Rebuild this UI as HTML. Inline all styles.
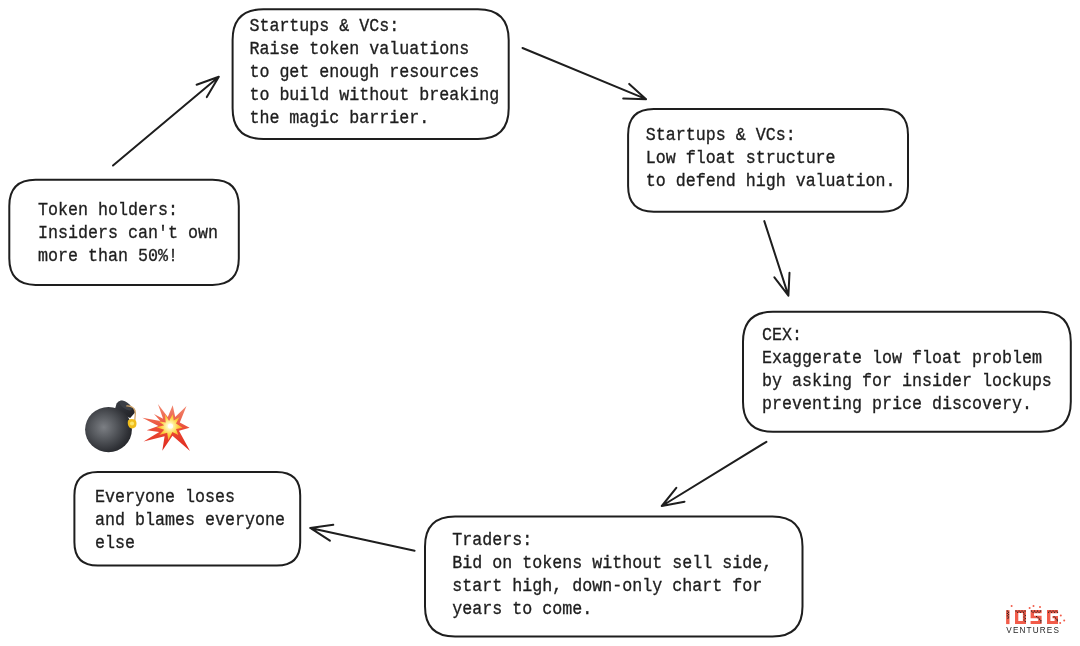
<!DOCTYPE html>
<html>
<head>
<meta charset="utf-8">
<style>
html,body{margin:0;padding:0;background:#ffffff;}
body{width:1080px;height:646px;overflow:hidden;position:relative;}
svg{position:absolute;left:0;top:0;will-change:transform;}
.t text{font-family:"Liberation Mono", monospace;font-size:16.667px;fill:#1e1e1e;stroke:#1e1e1e;stroke-width:0.3px;}
</style>
</head>
<body>
<svg width="1080" height="646" viewBox="0 0 1080 646">
  <g fill="none" stroke="#1e1e1e" stroke-width="2" stroke-linecap="round" stroke-linejoin="round">
    <path d="M263.40 9.3 L477.90 9.3 Q508.7 9.3 508.7 40.10 L508.7 108.20 Q508.7 139.0 477.90 139.0 L263.40 139.0 Q232.6 139.0 232.6 108.20 L232.6 40.10 Q232.6 9.3 263.40 9.3 Z"/>
    <path d="M653.77 109.1 L882.33 109.1 Q908.0 109.1 908.0 134.78 L908.0 186.12 Q908.0 211.8 882.33 211.8 L653.77 211.8 Q628.1 211.8 628.1 186.12 L628.1 134.78 Q628.1 109.1 653.77 109.1 Z"/>
    <path d="M773.00 311.8 L1040.80 311.8 Q1070.8 311.8 1070.8 341.80 L1070.8 401.80 Q1070.8 431.8 1040.80 431.8 L773.00 431.8 Q743.0 431.8 743.0 401.80 L743.0 341.80 Q743.0 311.8 773.00 311.8 Z"/>
    <path d="M455.05 516.4 L772.45 516.4 Q802.5 516.4 802.5 546.45 L802.5 606.55 Q802.5 636.6 772.45 636.6 L455.05 636.6 Q425.0 636.6 425.0 606.55 L425.0 546.45 Q425.0 516.4 455.05 516.4 Z"/>
    <path d="M97.80 472.0 L276.80 472.0 Q300.2 472.0 300.2 495.40 L300.2 542.20 Q300.2 565.6 276.80 565.6 L97.80 565.6 Q74.4 565.6 74.4 542.20 L74.4 495.40 Q74.4 472.0 97.80 472.0 Z"/>
    <path d="M35.57 179.8 L212.53 179.8 Q238.8 179.8 238.8 206.07 L238.8 258.62 Q238.8 284.9 212.53 284.9 L35.57 284.9 Q9.3 284.9 9.3 258.62 L9.3 206.07 Q9.3 179.8 35.57 179.8 Z"/>
    <path d="M113 165.5 L218.8 76.7 M196.6 84.7 L218.8 76.7 L206.8 97.1"/>
    <path d="M522.5 48 L646.1 99.2 M629.2 83.9 L646.1 99.2 L623.2 98.5"/>
    <path d="M764.3 221.1 L788.4 295.6 M774.4 277.3 L788.4 295.6 L789.5 272.7"/>
    <path d="M766.4 441.8 L661.8 506 M676.3 487.9 L661.8 506 L684.5 501.7"/>
    <path d="M414.6 550.7 L310.2 527.9 M333.3 524.8 L310.2 527.9 L329.9 540.7"/>
  </g>
  <g class="t">
  <text x="249.4" y="0" transform="translate(0 30.60) scale(1 1.07)">Startups &amp; VCs:</text>
  <text x="249.4" y="0" transform="translate(0 53.68) scale(1 1.07)">Raise token valuations</text>
  <text x="249.4" y="0" transform="translate(0 76.76) scale(1 1.07)">to get enough resources</text>
  <text x="249.4" y="0" transform="translate(0 99.84) scale(1 1.07)">to build without breaking</text>
  <text x="249.4" y="0" transform="translate(0 122.92) scale(1 1.07)">the magic barrier.</text>
  <text x="645.7" y="0" transform="translate(0 139.50) scale(1 1.07)">Startups &amp; VCs:</text>
  <text x="645.7" y="0" transform="translate(0 162.58) scale(1 1.07)">Low float structure</text>
  <text x="645.7" y="0" transform="translate(0 185.66) scale(1 1.07)">to defend high valuation.</text>
  <text x="762.0" y="0" transform="translate(0 339.90) scale(1 1.07)">CEX:</text>
  <text x="762.0" y="0" transform="translate(0 362.98) scale(1 1.07)">Exaggerate low float problem</text>
  <text x="762.0" y="0" transform="translate(0 386.06) scale(1 1.07)">by asking for insider lockups</text>
  <text x="762.0" y="0" transform="translate(0 409.14) scale(1 1.07)">preventing price discovery.</text>
  <text x="452.3" y="0" transform="translate(0 544.90) scale(1 1.07)">Traders:</text>
  <text x="452.3" y="0" transform="translate(0 567.98) scale(1 1.07)">Bid on tokens without sell side,</text>
  <text x="452.3" y="0" transform="translate(0 591.06) scale(1 1.07)">start high, down-only chart for</text>
  <text x="452.3" y="0" transform="translate(0 614.14) scale(1 1.07)">years to come.</text>
  <text x="95.0" y="0" transform="translate(0 502.30) scale(1 1.07)">Everyone loses</text>
  <text x="95.0" y="0" transform="translate(0 525.38) scale(1 1.07)">and blames everyone</text>
  <text x="95.0" y="0" transform="translate(0 548.46) scale(1 1.07)">else</text>
  <text x="38.1" y="0" transform="translate(0 215.20) scale(1 1.07)">Token holders:</text>
  <text x="38.1" y="0" transform="translate(0 238.28) scale(1 1.07)">Insiders can't own</text>
  <text x="38.1" y="0" transform="translate(0 261.36) scale(1 1.07)">more than 50%!</text>
  </g>
<!-- bomb -->
  <defs>
    <radialGradient id="bg" cx="0.4" cy="0.45" r="0.65">
      <stop offset="0" stop-color="#7c7f84"/>
      <stop offset="0.4" stop-color="#56595e"/>
      <stop offset="0.8" stop-color="#303237"/>
      <stop offset="1" stop-color="#222327"/>
    </radialGradient>
    <linearGradient id="ng" x1="0" y1="0" x2="1" y2="1">
      <stop offset="0" stop-color="#3a3e45"/>
      <stop offset="1" stop-color="#1f2024"/>
    </linearGradient>
    <linearGradient id="cg" x1="0" y1="0" x2="0" y2="1">
      <stop offset="0" stop-color="#f28a72"/>
      <stop offset="0.55" stop-color="#ea4b35"/>
      <stop offset="1" stop-color="#e0261c"/>
    </linearGradient>
    <radialGradient id="sg" cx="0.5" cy="0.46" r="0.55">
      <stop offset="0" stop-color="#ffffff"/>
      <stop offset="0.25" stop-color="#fff3a8"/>
      <stop offset="0.6" stop-color="#fcd240"/>
      <stop offset="1" stop-color="#f59a28"/>
    </radialGradient>
  </defs>
  <g>
    <path d="M114.2 411.5 L116.6 403.6 Q118.5 400.2 122.2 401 L133.6 408.2 Q136 410.5 134.6 413 L130.2 418 Z" fill="url(#ng)"/>
    <ellipse cx="108.5" cy="429.6" rx="23.4" ry="22.6" fill="url(#bg)"/>
    <ellipse cx="125.6" cy="405.4" rx="7.4" ry="3.2" transform="rotate(35 125.6 405.4)" fill="#3b3f46"/>
    <path d="M126.4 406 Q134.5 405.5 135.4 413 L134.8 420" stroke="#d2a66c" stroke-width="1.3" fill="none"/>
    <path d="M128 420.5 Q131 418 135.5 420 Q137.5 423.5 135.6 427 Q132.5 429.5 129.5 427.5 Q127 424.5 128 420.5 Z" fill="#f0bd1c"/>
    <circle cx="132" cy="423.5" r="2.1" fill="#fbe56a"/>
  </g>
  <!-- collision -->
  <g>
    <polygon fill="url(#cg)" points="157.9,403.9 167.8,417.0 172.7,405.2 175.2,417.0 186.5,406.1 179.8,422.6 189.6,427.7 179.0,430.8 190.0,451.1 172.5,435.7 162.3,450.7 164.6,436.2 143.6,441.6 159.2,431.9 146.7,430.3 158.4,426.0 142.3,417.8 160.3,421.0 154.0,413.9 163.1,418.7"/>
    <polygon fill="url(#sg)" points="164.9,413.9 169.1,420.9 172.7,414.3 173.8,420.6 179.6,416.9 176.0,423.5 182.6,427.7 176.0,429.1 178.3,435.1 172.4,431.9 168.3,440.3 167.2,432.7 159.2,435.1 164.2,429.7 156.6,427.3 164.2,425.3 158.4,421.2 165.7,422.4"/>
    <circle cx="170.5" cy="426" r="2.6" fill="#ffffff" opacity="0.85"/>
  </g>
  <!-- logo -->
  <g fill="#f25c4a">
    <rect x="1006.1" y="610.1" width="3.4" height="14"/>
    <path d="M1015 610.1 H1026 V624.1 H1015 Z M1018.3 613.1 V621.1 H1022.9 V613.1 Z" fill-rule="evenodd"/>
    <path d="M1030.6 610.1 H1041.6 V613.2 H1034 V615.8 H1041.6 V624.1 H1030.6 V621.1 H1038.2 V618.3 H1030.6 Z"/>
    <path d="M1047 610.1 H1058 V613.2 H1050.4 V621.1 H1054.6 V618.3 H1052.5 V615.9 H1058 V624.1 H1047 Z"/>
    <circle cx="1011.6" cy="606.1" r="1"/>
    <circle cx="1029.6" cy="607.9" r="1"/>
    <circle cx="1033.5" cy="606" r="1"/>
    <circle cx="1040" cy="607" r="1"/>
    <circle cx="1060.8" cy="615.6" r="1"/>
    <circle cx="1064.2" cy="620.5" r="1"/>
    <circle cx="1060.2" cy="623.1" r="1"/>
  </g>
  <g fill="#1e1e1e">
    <rect x="1006.8" y="610.5" width="1.1" height="1.1"/><rect x="1008" y="611.7" width="1.1" height="1.1"/><rect x="1006.8" y="612.9" width="1.1" height="1.1"/><rect x="1008" y="614.1" width="1.1" height="1.1"/><rect x="1006.8" y="615.3" width="1.1" height="1.1"/><rect x="1008" y="616.5" width="1.1" height="1.1"/><rect x="1007.4" y="617.7" width="1.1" height="1.1"/>
    <rect x="1015.5" y="610.5" width="1.1" height="1.1"/><rect x="1017" y="611.7" width="1.1" height="1.1"/><rect x="1018.5" y="610.5" width="1.1" height="1.1"/><rect x="1020" y="611.7" width="1.1" height="1.1"/><rect x="1021.5" y="610.5" width="1.1" height="1.1"/><rect x="1023" y="611.7" width="1.1" height="1.1"/><rect x="1024.5" y="610.5" width="1.1" height="1.1"/><rect x="1023.5" y="613.5" width="1.1" height="1.1"/><rect x="1024.7" y="615" width="1.1" height="1.1"/><rect x="1023.5" y="616.5" width="1.1" height="1.1"/><rect x="1024.7" y="618" width="1.1" height="1.1"/><rect x="1023.5" y="619.5" width="1.1" height="1.1"/><rect x="1024.7" y="621" width="1.1" height="1.1"/>
    <rect x="1031" y="610.5" width="1.1" height="1.1"/><rect x="1032.5" y="611.7" width="1.1" height="1.1"/><rect x="1034" y="610.5" width="1.1" height="1.1"/><rect x="1035.5" y="611.7" width="1.1" height="1.1"/><rect x="1037" y="610.5" width="1.1" height="1.1"/><rect x="1038.5" y="611.7" width="1.1" height="1.1"/><rect x="1040" y="610.5" width="1.1" height="1.1"/><rect x="1036" y="616" width="1.1" height="1.1"/><rect x="1037.5" y="617.3" width="1.1" height="1.1"/><rect x="1039" y="618.6" width="1.1" height="1.1"/><rect x="1040.3" y="620" width="1.1" height="1.1"/><rect x="1040.3" y="621.5" width="1.1" height="1.1"/>
    <rect x="1048" y="611.7" width="1.1" height="1.1"/><rect x="1049.5" y="610.5" width="1.1" height="1.1"/><rect x="1051" y="611.7" width="1.1" height="1.1"/><rect x="1052.5" y="610.5" width="1.1" height="1.1"/><rect x="1054" y="611.7" width="1.1" height="1.1"/><rect x="1055.5" y="610.5" width="1.1" height="1.1"/><rect x="1057" y="611.7" width="1.1" height="1.1"/><rect x="1053.5" y="616.3" width="1.1" height="1.1"/><rect x="1055" y="617.5" width="1.1" height="1.1"/><rect x="1056.5" y="618.8" width="1.1" height="1.1"/><rect x="1056.8" y="620.2" width="1.1" height="1.1"/>
  </g>
  <text x="1006.3" y="632.5" textLength="52.6" lengthAdjust="spacing" style="font-family:'Liberation Sans',sans-serif;font-size:8.2px;fill:#262626;">VENTURES</text>

</svg>
</body>
</html>
